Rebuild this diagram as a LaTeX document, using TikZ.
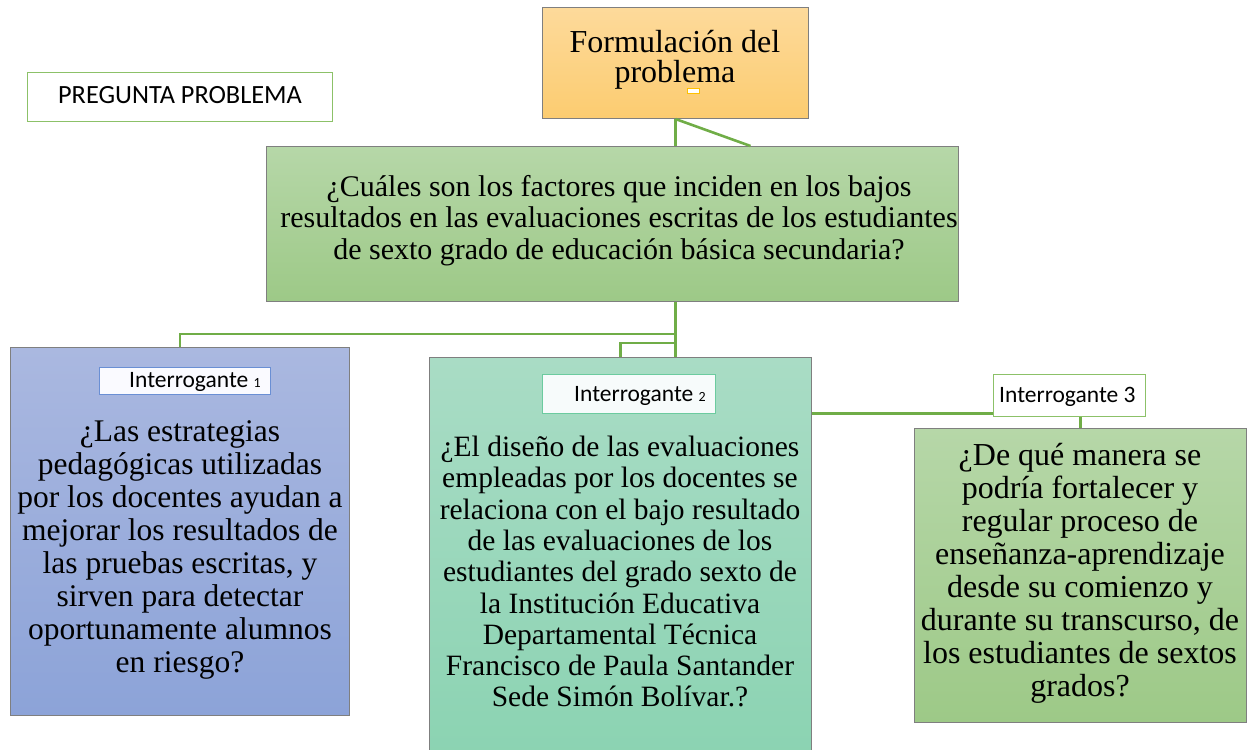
\documentclass[tikz,border=0pt]{standalone}
\usepackage{fontspec}
\setmainfont{Liberation Serif}
\newfontfamily\calibri{Carlito}
\definecolor{linegreen}{HTML}{70AD47}
\definecolor{boxgray}{HTML}{7F7F7F}
\definecolor{orgtop}{HTML}{FDDA9B}
\definecolor{orgbot}{HTML}{FCCC70}
\definecolor{grntop}{HTML}{B6D7A8}
\definecolor{grnbot}{HTML}{9DC987}
\definecolor{blutop}{HTML}{AAB8E0}
\definecolor{blubot}{HTML}{8CA3D8}
\definecolor{tealtop}{HTML}{A9DCC5}
\definecolor{tealbot}{HTML}{8BD3B2}
\definecolor{lblgreen}{HTML}{8CC168}
\definecolor{lblblue}{HTML}{6A8FD4}
\definecolor{lblteal}{HTML}{6CCB9F}
\definecolor{marker}{HTML}{FFC000}
\tikzset{
  box/.style={draw=boxgray, line width=1pt, rectangle, inner sep=0pt, anchor=north west},
  lbl/.style={rectangle, inner sep=0pt, anchor=north west, line width=1.3pt},
  conn/.style={draw=linegreen, line width=2.6pt},
  txt/.style={inner sep=0pt, anchor=base},
  lbltxt/.style={inner sep=0pt, anchor=base west, font=\calibri\fontsize{23.5}{26}\selectfont},
}
\newcommand{\blocktext}[4]{\parbox[t]{#1pt}{\centering\fontsize{#2}{#3}\selectfont #4}}
\begin{document}
\begin{tikzpicture}[x=1pt,y=-1pt]
\useasboundingbox (0,0) rectangle (1249,749);
% boxes
\node[box, top color=orgtop, bottom color=orgbot, minimum width=266, minimum height=111] (fp) at (542,7) {};
\node[box, top color=grntop, bottom color=grnbot, minimum width=692, minimum height=155] (main) at (266,146) {};
\node[box, top color=blutop, bottom color=blubot, minimum width=339, minimum height=368] (b1) at (10,347) {};
\node[box, top color=tealtop, bottom color=tealbot, minimum width=382, minimum height=400] (b2) at (429,357) {};
\node[box, top color=grntop, bottom color=grnbot, minimum width=332, minimum height=294] (b3) at (914,428) {};
% labels
\node[lbl, draw=lblgreen, fill=white, minimum width=305, minimum height=49] (pp) at (27,72) {};
\node[lbl, draw=lblblue, fill=blue!2, minimum width=171, minimum height=27] (l1) at (99,367) {};
\node[lbl, draw=lblteal, fill=teal!3, minimum width=173, minimum height=39] (l2) at (542,374) {};
\node[lbl, draw=lblgreen, fill=white, minimum width=152, minimum height=42] (l3) at (993,374) {};
% connectors
\draw[conn] (fp.south) -- (fp.south |- main.north);
\draw[conn] (fp.south) -- ([xshift=138pt]main.north);
\draw[conn] (fp.south |- main.south) -- ([xshift=55pt]b2.north);
\draw[conn] ([yshift=-32pt]fp.south |- main.south) -| (b1.north);
\draw[conn] ([yshift=-41pt]fp.south |- main.south) -| (b2.north);
\draw[conn] ([yshift=4pt]l3.south west -| b2.east) -- ([yshift=4pt]l3.south west);
\draw[conn] (b3.north) -- (b3.north |- l3.south);
% marker
\draw[marker, line width=1pt, fill=white] (687,89) rectangle (699,94);
% texts
\node[txt] (fpt) at (675,53) {\blocktext{260}{32}{30}{Formulación del\\problema}};
\node[txt] (maint) at (619,196) {\blocktext{690}{30}{31.5}{¿Cuáles son los factores que inciden en los bajos\\resultados en las evaluaciones escritas de los estudiantes\\de sexto grado de educación básica secundaria?}};
\node[txt] (b1t) at (180,441) {\blocktext{380}{31.5}{33}{¿Las estrategias\\pedagógicas utilizadas\\por los docentes ayudan a\\mejorar los resultados de\\las pruebas escritas, y\\sirven para detectar\\oportunamente alumnos\\en riesgo?}};
\node[txt] (b2t) at (620,456.5) {\blocktext{400}{29.5}{31.3}{¿El diseño de las evaluaciones\\empleadas por los docentes se\\relaciona con el bajo resultado\\de las evaluaciones de los\\estudiantes del grado sexto de\\la Institución Educativa\\Departamental Técnica\\Francisco de Paula Santander\\Sede Simón Bolívar.?}};
\node[txt] (b3t) at (1080,465) {\blocktext{360}{32}{33}{¿De qué manera se\\podría fortalecer y\\regular proceso de\\enseñanza-aprendizaje\\desde su comienzo y\\durante su transcurso, de\\los estudiantes de sextos\\grados?}};
\node[txt, font=\calibri\fontsize{26.3}{28}\selectfont] (ppt) at (180,104) {PREGUNTA PROBLEMA};
\node[lbltxt] (l1t) at (129,387) {Interrogante {\fontsize{14}{14}\selectfont 1}};
\node[lbltxt] (l2t) at (574,401) {Interrogante {\fontsize{14}{14}\selectfont 2}};
\node[lbltxt] (l3t) at (999,402) {Interrogante 3};
\end{tikzpicture}
\end{document}
